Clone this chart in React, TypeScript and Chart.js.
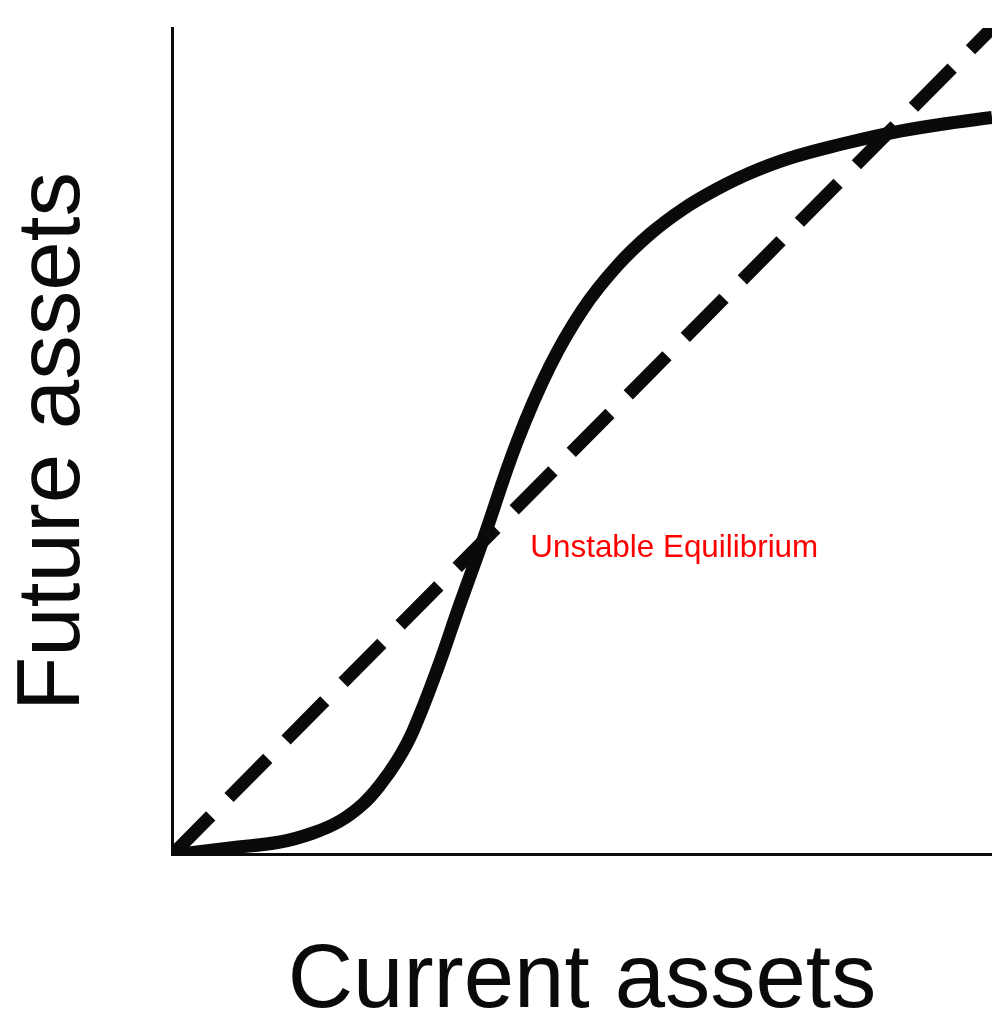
import React, { useEffect, useRef } from "react";
import { Chart, registerables } from "chart.js";

Chart.register(...registerables);

// S-shaped asset dynamics curve
const currentAssets = [0, 7.07, 13.17, 17.2, 20.49, 23.29, 25.37, 27.44, 29.39, 32.32, 35.12, 37.93, 42.07, 46.1, 50.12, 54.27, 58.29, 62.32, 66.46, 70.49, 75.37, 81.46, 87.56, 93.66, 100];
const futureAssets = [0, 0.85, 1.57, 2.66, 4.11, 6.17, 8.46, 11.37, 14.99, 22.37, 30.35, 38.09, 49.94, 59.13, 66.02, 71.22, 75.09, 78.11, 80.53, 82.47, 84.28, 85.91, 87.3, 88.33, 89.18];

// 45-degree line (future = current)
const identityX = [0, 100];
const identityY = [0, 100];

const equilibriumLabel = "Unstable Equilibrium";
const labelAt = [43.7, 36.0];

const xTitle = "Current assets";
const yTitle = "Future assets";

const FONT = "'Liberation Sans', Arial, Helvetica, sans-serif";

const labelPlugin = {
  id: "equilibriumLabel",
  afterDatasetsDraw(chart: any) {
    const { ctx, scales } = chart;
    const x = scales.x;
    const y = scales.y;
    ctx.save();
    ctx.font = `31.4px ${FONT}`;
    ctx.fillStyle = "#ff0000";
    ctx.textBaseline = "alphabetic";
    ctx.textAlign = "left";
    ctx.fillText(equilibriumLabel, x.getPixelForValue(labelAt[0]), y.getPixelForValue(labelAt[1]));
    ctx.restore();
  },
};

export default function App() {
  const canvasRef = useRef<HTMLCanvasElement | null>(null);

  useEffect(() => {
    const canvas = canvasRef.current;
    if (!canvas) return;
    const chart = new Chart(canvas, {
      type: "line",
      data: {
        datasets: [
          {
            label: "curve",
            data: currentAssets.map((v, i) => ({ x: v, y: futureAssets[i] })),
            borderColor: "#0a0a0a",
            borderWidth: 13,
            pointRadius: 0,
            tension: 0.4,
            fill: false,
            clip: 0,
          } as any,
          {
            label: "identity",
            data: identityX.map((v, i) => ({ x: v, y: identityY[i] })),
            borderColor: "#0a0a0a",
            borderWidth: 13,
            borderDash: [55, 26],
            borderCapStyle: "butt",
            pointRadius: 0,
            fill: false,
            clip: 0,
          } as any,
        ],
      },
      options: {
        animation: false,
        responsive: false,
        layout: { padding: { top: 28, right: 0, bottom: 0, left: 0 } },
        plugins: {
          legend: { display: false },
          tooltip: { enabled: false },
        },
        scales: {
          x: {
            type: "linear",
            min: 0,
            max: 100,
            grid: { display: false, drawTicks: false },
            border: { display: true, color: "#0a0a0a", width: 3 },
            ticks: { display: false },
            title: {
              display: true,
              text: xTitle,
              color: "#0a0a0a",
              font: { size: 90.5, family: FONT, lineHeight: 0.62 },
              padding: { top: 98.9, bottom: 3 },
            },
          },
          y: {
            type: "linear",
            min: 0,
            max: 100,
            grid: { display: false, drawTicks: false },
            border: { display: true, color: "#0a0a0a", width: 3 },
            ticks: { display: false },
            title: {
              display: true,
              text: yTitle,
              color: "#0a0a0a",
              font: { size: 89, family: FONT, lineHeight: 1 },
              padding: { top: 10, bottom: 73 },
            },
          },
        },
      },
      plugins: [labelPlugin],
    });
    return () => chart.destroy();
  }, []);

  return (
    <div style={{ position: "absolute", left: 0, top: 0, width: 992, height: 1013, background: "#fff" }}>
      <canvas ref={canvasRef} width={992} height={1013} style={{ display: "block", width: 992, height: 1013 }} />
    </div>
  );
}
